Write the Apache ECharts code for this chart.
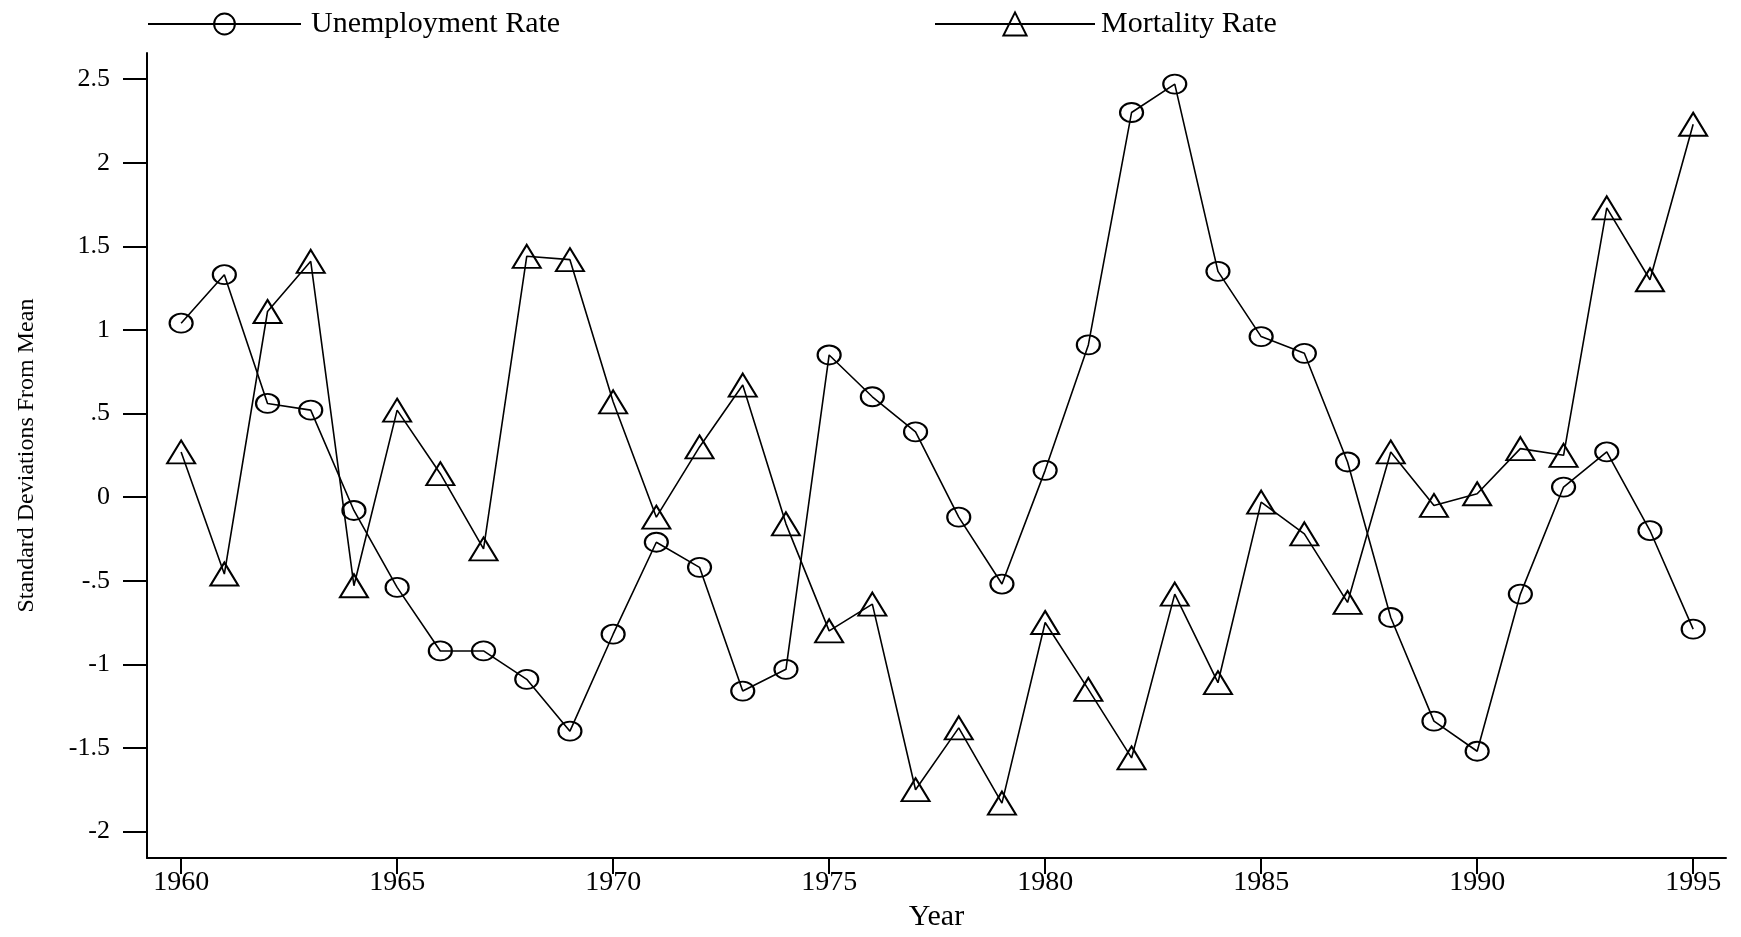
<!DOCTYPE html>
<html>
<head>
<meta charset="utf-8">
<script src="https://cdn.jsdelivr.net/npm/echarts@6/dist/echarts.min.js"></script>
<style>
html,body{margin:0;padding:0;background:#fff;}
#chart{width:1741px;height:937px;}
</style>
</head>
<body>
<div id="chart"></div>
<script>
const years = [1960,1961,1962,1963,1964,1965,1966,1967,1968,1969,1970,1971,1972,1973,1974,1975,1976,1977,1978,1979,1980,1981,1982,1983,1984,1985,1986,1987,1988,1989,1990,1991,1992,1993,1994,1995];
const unemployment = [1.04,1.33,0.56,0.52,-0.08,-0.54,-0.92,-0.92,-1.09,-1.40,-0.82,-0.27,-0.42,-1.16,-1.03,0.85,0.60,0.39,-0.12,-0.52,0.16,0.91,2.30,2.47,1.35,0.96,0.86,0.21,-0.72,-1.34,-1.52,-0.58,0.06,0.27,-0.20,-0.79];
const mortality = [0.27,-0.46,1.11,1.41,-0.53,0.52,0.14,-0.31,1.44,1.42,0.57,-0.12,0.30,0.67,-0.16,-0.80,-0.64,-1.75,-1.38,-1.83,-0.75,-1.15,-1.56,-0.58,-1.11,-0.03,-0.22,-0.63,0.27,-0.05,0.02,0.29,0.25,1.73,1.30,2.23];
const xTicks = [1960,1965,1970,1975,1980,1985,1990,1995];
const yTicks = [-2,-1.5,-1,-0.5,0,0.5,1,1.5,2,2.5];
const yTickLabels = ['-2','-1.5','-1','-.5','0','.5','1','1.5','2','2.5'];

const FONT = '"Liberation Serif", "DejaVu Serif", serif';
const chart = echarts.init(document.getElementById('chart'), null, {renderer:'canvas'});

function pairs(vals){ return years.map((y,i)=>[y, vals[i]]); }

const option = {
  animation: false,
  backgroundColor: '#fff',
  grid: {left: 147, right: 15, top: 53, bottom: 65, containLabel: false},
  legend: [
    {data: ['Unemployment Rate'], left: 142, top: 4, itemWidth: 153, itemHeight: 26, itemGap: 0,
     textStyle: {fontFamily: FONT, fontSize: 30, color: '#000', padding: [0,0,0,5]}},
    {data: ['Mortality Rate'], left: 929, top: 4, itemWidth: 160, itemHeight: 29, itemGap: 0,
     textStyle: {fontFamily: FONT, fontSize: 30, color: '#000', padding: [0,0,0,1]}}
  ],
  xAxis: {
    type: 'value', min: 1959.21, max: 1995.76,
    name: 'Year', nameLocation: 'middle', nameGap: 36,
    nameTextStyle: {fontFamily: FONT, fontSize: 30, color: '#000'},
    axisLine: {show: true, onZero: false, lineStyle: {color: '#000', width: 2}},
    axisTick: {show: true, length: 16, customValues: xTicks, lineStyle: {color: '#000', width: 2}},
    axisLabel: {customValues: xTicks, margin: 11, fontFamily: FONT, fontSize: 28, color: '#000', formatter: v => String(v)},
    splitLine: {show: false}
  },
  yAxis: {
    type: 'value', min: -2.159, max: 2.656,
    name: 'Standard Deviations From Mean', nameLocation: 'middle', nameGap: 108,
    nameTextStyle: {fontFamily: FONT, fontSize: 24, color: '#000'},
    axisLine: {show: true, onZero: false, lineStyle: {color: '#000', width: 2}},
    axisTick: {show: true, length: 24, customValues: yTicks, lineStyle: {color: '#000', width: 2}},
    axisLabel: {customValues: yTicks, margin: 37, fontFamily: FONT, fontSize: 26, color: '#000',
      formatter: v => { const i = yTicks.findIndex(t => Math.abs(t - v) < 1e-6); return i >= 0 ? yTickLabels[i] : ''; }},
    splitLine: {show: false}
  },
  series: [
    {name: 'Unemployment Rate', type: 'line', data: pairs(unemployment),
     symbol: 'circle', symbolSize: [23,19], showAllSymbol: true,
     lineStyle: {color: '#000', width: 1.6},
     itemStyle: {color: 'rgba(0,0,0,0)', borderColor: '#000', borderWidth: 2},
     emphasis: {disabled: true}},
    {name: 'Mortality Rate', type: 'line', data: pairs(mortality),
     symbol: 'triangle', symbolSize: [28,23], showAllSymbol: true,
     lineStyle: {color: '#000', width: 1.6},
     itemStyle: {color: 'rgba(0,0,0,0)', borderColor: '#000', borderWidth: 2},
     emphasis: {disabled: true}}
  ]
};
chart.setOption(option);
</script>
</body>
</html>
